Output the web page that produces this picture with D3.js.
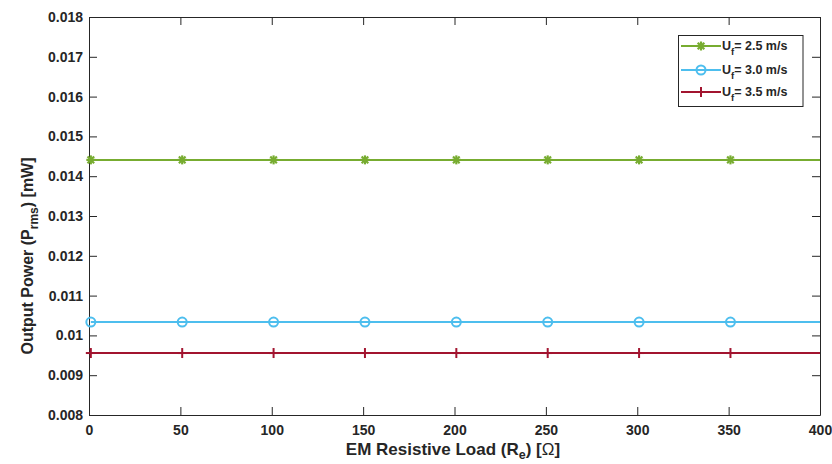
<!DOCTYPE html>
<html>
<head>
<meta charset="utf-8">
<script src="https://cdn.jsdelivr.net/npm/d3@7"></script>
<style>
  html, body { margin: 0; padding: 0; background: #fff; }
  svg { display: block; }
  text { font-family: "Liberation Sans", Arial, Helvetica, sans-serif; font-weight: bold; fill: #262626; }
</style>
</head>
<body>
<svg id="chart" width="832" height="464"></svg>
<script>
// Resistive load sample points (Ω); markers on all but the last point
const loadValues = [1, 51, 101, 151, 201, 251, 301, 351, 400];
// Output power (mW) for each flow speed
const power25 = [0.01441, 0.01441, 0.01441, 0.01441, 0.01441, 0.01441, 0.01441, 0.01441, 0.01441];
const power30 = [0.010335, 0.010335, 0.010335, 0.010335, 0.010335, 0.010335, 0.010335, 0.010335, 0.010335];
const power35 = [0.009557, 0.009557, 0.009557, 0.009557, 0.009557, 0.009557, 0.009557, 0.009557, 0.009557];
const seriesNames = ["2.5", "3.0", "3.5"];
const seriesColors = ["#77AC30", "#4DBEEE", "#A2142F"];
const seriesMarkers = ["asterisk", "circle", "plus"];
const xTicks = [0, 50, 100, 150, 200, 250, 300, 350, 400];
const xTickLabels = ["0", "50", "100", "150", "200", "250", "300", "350", "400"];
const yTicks = [0.008, 0.009, 0.010, 0.011, 0.012, 0.013, 0.014, 0.015, 0.016, 0.017, 0.018];
const yTickLabels = ["0.008", "0.009", "0.01", "0.011", "0.012", "0.013", "0.014", "0.015", "0.016", "0.017", "0.018"];

const svg = d3.select("#chart");
const plotLeft = 89, plotRight = 820, plotTop = 17, plotBottom = 415;
const x = d3.scaleLinear().domain([0, 400]).range([plotLeft, plotRight]);
const y = d3.scaleLinear().domain([0.008, 0.018]).range([plotBottom, plotTop]);
const axisColor = "#262626";
const tickLen = 8;

// clip region for data lines
svg.append("defs").append("clipPath").attr("id", "plotClip")
  .append("rect").attr("x", plotLeft).attr("y", plotTop)
  .attr("width", plotRight - plotLeft).attr("height", plotBottom - plotTop);

// axes (ticks point inward on all four sides)
const fmtX = (d, i) => xTickLabels[i];
const fmtY = (d, i) => yTickLabels[i];
const gx = svg.append("g").attr("transform", `translate(0,${plotBottom})`)
  .call(d3.axisBottom(x).tickValues(xTicks).tickFormat(fmtX).tickSizeInner(-tickLen).tickSizeOuter(0).tickPadding(10));
const gy = svg.append("g").attr("transform", `translate(${plotLeft},0)`)
  .call(d3.axisLeft(y).tickValues(yTicks).tickFormat(fmtY).tickSizeInner(-tickLen).tickSizeOuter(0).tickPadding(6));
const gxt = svg.append("g").attr("transform", `translate(0,${plotTop})`)
  .call(d3.axisTop(x).tickValues(xTicks).tickFormat("").tickSizeInner(-tickLen).tickSizeOuter(0));
const gyr = svg.append("g").attr("transform", `translate(${plotRight},0)`)
  .call(d3.axisRight(y).tickValues(yTicks).tickFormat("").tickSizeInner(-tickLen).tickSizeOuter(0));
[gx, gy, gxt, gyr].forEach(g => {
  g.selectAll("path.domain").attr("stroke", axisColor).attr("stroke-width", 1);
  g.selectAll(".tick line").attr("stroke", axisColor).attr("stroke-width", 1);
  g.selectAll(".tick text").style("font-size", "14px").style("font-weight", "bold").attr("fill", axisColor);
});

// marker drawing
function drawMarker(g, type, cx, cy, color) {
  if (type === "asterisk") {
    const s = 4.5, d = 3.3;
    [[-s, 0, s, 0], [0, -s, 0, s], [-d, -d, d, d], [-d, d, d, -d]].forEach(l => {
      g.append("line").attr("x1", cx + l[0]).attr("y1", cy + l[1]).attr("x2", cx + l[2]).attr("y2", cy + l[3])
        .attr("stroke", color).attr("stroke-width", 2.2);
    });
  } else if (type === "circle") {
    g.append("circle").attr("cx", cx).attr("cy", cy).attr("r", 4.5)
      .attr("fill", "none").attr("stroke", color).attr("stroke-width", 2);
  } else {
    const s = 5;
    g.append("line").attr("x1", cx - s).attr("y1", cy).attr("x2", cx + s).attr("y2", cy).attr("stroke", color).attr("stroke-width", 2);
    g.append("line").attr("x1", cx).attr("y1", cy - s).attr("x2", cx).attr("y2", cy + s).attr("stroke", color).attr("stroke-width", 2);
  }
}

// series
const allSeries = [power25, power30, power35];
const plot = svg.append("g").attr("clip-path", "url(#plotClip)");
const line = d3.line().x(d => x(d[0])).y(d => y(d[1]));
allSeries.forEach((vals, si) => {
  const pts = loadValues.map((lv, i) => [lv, vals[i]]);
  plot.append("path").datum(pts).attr("d", line)
    .attr("fill", "none").attr("stroke", seriesColors[si]).attr("stroke-width", 2);
  const mg = svg.append("g");
  pts.slice(0, pts.length - 1).forEach(p => drawMarker(mg, seriesMarkers[si], x(p[0]), y(p[1]), seriesColors[si]));
});

// legend
const lg = svg.append("g");
lg.append("rect").attr("x", 678.5).attr("y", 35.5).attr("width", 124.5).attr("height", 71)
  .attr("fill", "#fff").attr("stroke", axisColor).attr("stroke-width", 1);
const rowY = [46, 70, 92];
seriesNames.forEach((nm, i) => {
  const ry = rowY[i];
  lg.append("line").attr("x1", 681).attr("y1", ry).attr("x2", 721).attr("y2", ry)
    .attr("stroke", seriesColors[i]).attr("stroke-width", 2);
  drawMarker(lg, seriesMarkers[i], 701, ry, seriesColors[i]);
  const t = lg.append("text").attr("x", 722).attr("y", ry + 4).style("font-size", "12.5px");
  t.append("tspan").text("U");
  t.append("tspan").attr("dy", 5).style("font-size", "9.5px").text("f");
  t.append("tspan").attr("dy", -5).text("= " + nm + " m/s");
});

// axis titles
const xl = svg.append("text").attr("x", 453).attr("y", 455).attr("text-anchor", "middle").style("font-size", "17px");
xl.append("tspan").text("EM Resistive Load (R");
xl.append("tspan").attr("dy", 4).style("font-size", "12.5px").text("e");
xl.append("tspan").attr("dy", -4).text(") [");
xl.append("tspan").style("font-weight", "normal").text("Ω");
xl.append("tspan").text("]");

const yl = svg.append("text").attr("transform", "translate(33,256) rotate(-90)").attr("text-anchor", "middle").style("font-size", "16px");
yl.append("tspan").text("Output Power (P");
yl.append("tspan").attr("dy", 5).style("font-size", "12px").text("rms");
yl.append("tspan").attr("dy", -5).text(") [mW]");
</script>
</body>
</html>
